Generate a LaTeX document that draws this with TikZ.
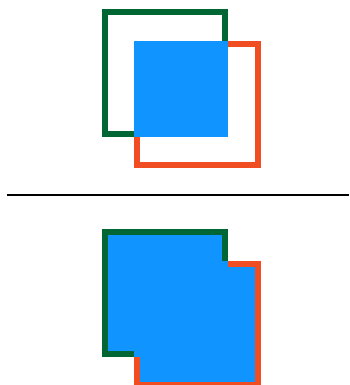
\documentclass[tikz,border=0pt]{standalone}
\definecolor{dkgreen}{RGB}{0,102,52}
\definecolor{orng}{RGB}{241,77,34}
\definecolor{skyblue}{RGB}{16,148,255}
\tikzset{
  greenbox/.style={draw=dkgreen, line width=6pt},
  redbox/.style={draw=orng, line width=6pt},
  bluefill/.style={fill=skyblue},
}
\begin{document}
\begin{tikzpicture}[x=1pt,y=-1pt]
\useasboundingbox (0,0) rectangle (350,385);
% top
\draw[greenbox] (105,12) rectangle (225,134);
\draw[redbox] (137,44) rectangle (258,165);
\fill[bluefill] (134,41) rectangle (228,137);
% separator
\draw[line width=2.5pt] (7,195) -- (349,195);
% bottom
\begin{scope}[yshift=-220pt]
\draw[greenbox] (105,12) rectangle (225,134);
\draw[redbox] (137,44) rectangle (258,165);
\fill[bluefill] (108,15) rectangle (222,131);
\fill[bluefill] (140,47) rectangle (255,162);
\fill[bluefill] (134,41) rectangle (228,137);
\end{scope}
\end{tikzpicture}
\end{document}
